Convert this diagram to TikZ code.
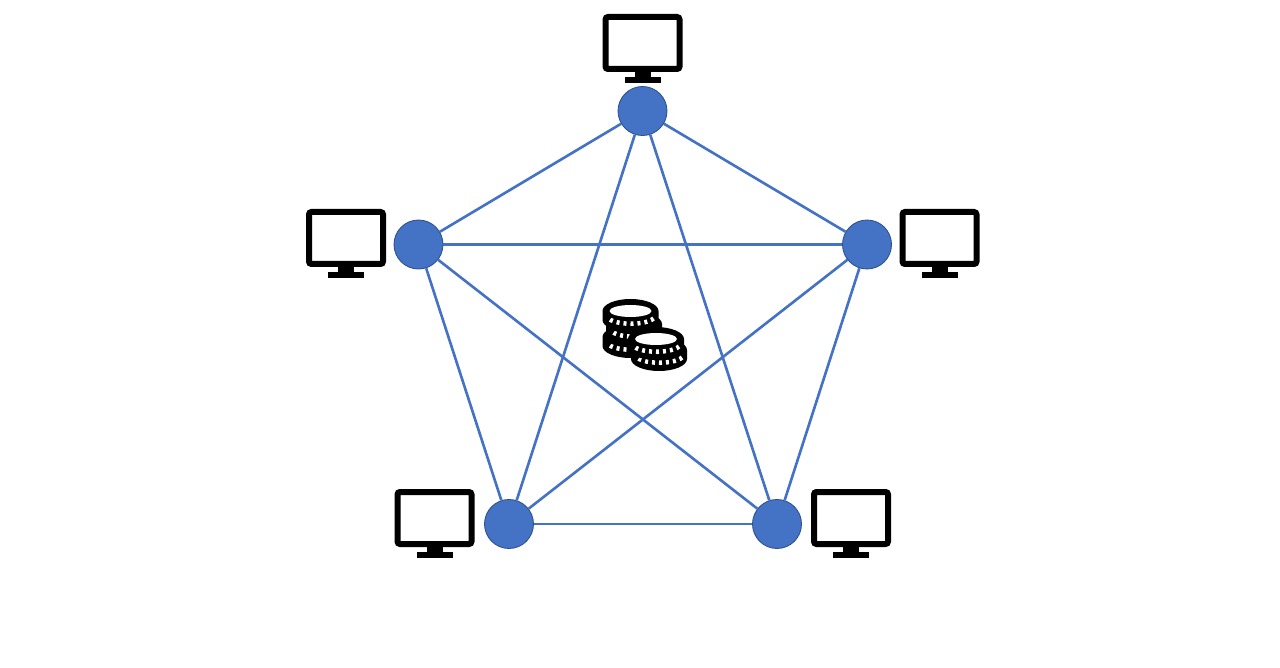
\documentclass[tikz,border=0pt]{standalone}
\usepackage{xcolor}
\definecolor{linkblue}{RGB}{68,114,196}
\definecolor{peerrim}{RGB}{47,82,143}
\tikzset{
  peer/.style={circle,fill=linkblue,draw=peerrim,line width=0.5pt,minimum size=0.98cm,inner sep=0pt},
  link/.style={linkblue,line width=1.5pt},
  monitor/.pic={
    \draw[black,line width=0.12cm,rounded corners=0.05cm,fill=white] (-37,-26) rectangle (37,26);
    \fill[black] (-8,27) rectangle (8,35);
    \fill[black] (-18,34) rectangle (18,40);
  },
  coin/.pic={
    \fill[black] (-28,0) arc (180:360:28 and 12) -- (28,9) arc (0:180:28 and 12) -- cycle;
    \fill[white] (0,0) ellipse (21 and 6);
    \draw[white,line width=0.09cm,dash pattern=on 0.06cm off 0.08cm] (23,7.5) arc (20:160:24 and 8);
  }
}
\begin{document}
\begin{tikzpicture}[x=0.02cm,y=-0.02cm]
  \useasboundingbox (0,0) rectangle (1280,668);
  % peers
  \node[peer] (top) at (642.5,111) {};
  \node[peer] (left) at (418.5,244.5) {};
  \node[peer] (right) at (867,244.5) {};
  \node[peer] (botleft) at (509,524) {};
  \node[peer] (botright) at (777,524) {};
  % every peer talks to every other
  \foreach \a/\b in {top/left,top/right,top/botleft,top/botright,left/right,left/botleft,left/botright,right/botleft,right/botright,botleft/botright}
    \draw[link] (\a) -- (\b);
  % monitors
  \pic at (642.5,43) {monitor};
  \pic at (346,238) {monitor};
  \pic at (939.5,238) {monitor};
  \pic at (434.5,518) {monitor};
  \pic at (851,518) {monitor};
  % coins
  \pic at (630.5,337) {coin};
  \pic at (634,324) {coin};
  \pic at (630.5,311) {coin};
  \pic at (659,350) {coin};
  \pic at (656,339) {coin};
\end{tikzpicture}
\end{document}
